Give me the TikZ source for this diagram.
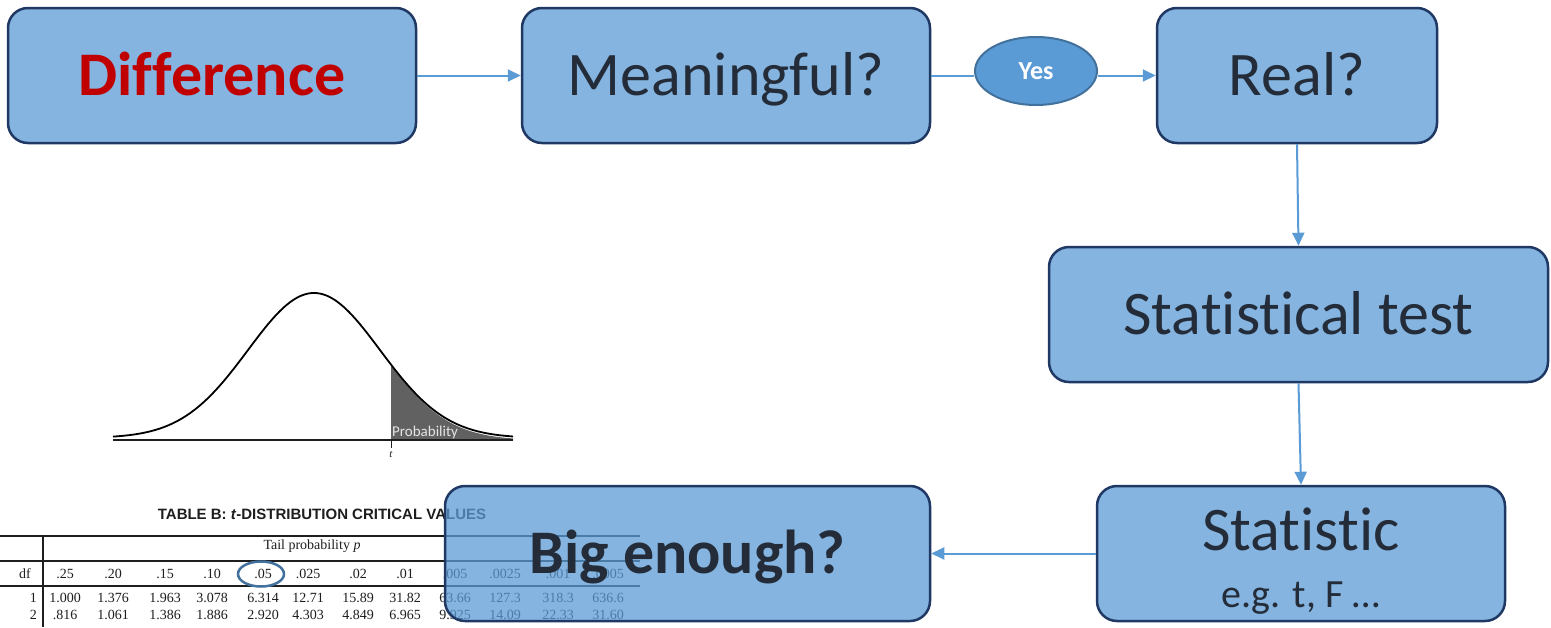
\documentclass[tikz,border=0pt]{standalone}
\usepackage{fontspec}
\setmainfont{Carlito}[Ligatures={NoCommon}]
\newfontfamily\tabfont{Liberation Serif}
\newfontfamily\ttlfont{Liberation Sans}
\usetikzlibrary{arrows.meta,shapes.geometric}
\definecolor{boxfill}{HTML}{5B9BD5}
\definecolor{boxline}{HTML}{1F3864}
\definecolor{txt}{HTML}{232C38}
\definecolor{diffred}{HTML}{C00000}
\definecolor{arrowc}{HTML}{5B9BD5}
\definecolor{yesline}{HTML}{41719C}
\definecolor{ink}{HTML}{1E1E1E}
\begin{document}
\begin{tikzpicture}[x=1pt,y=-1pt,
  box/.style={draw=boxline, line width=2.5pt, fill=boxfill, fill opacity=0.75, text opacity=1,
    rounded corners=20pt, inner sep=0pt, text=txt, font=\fontsize{62}{70}\selectfont,
    text height=40pt, text depth=0pt},
  conn/.style={draw=arrowc, line width=2pt},
  arr/.style={conn, -{Triangle[length=13pt,width=12pt]}},
  tabtxt/.style={font=\tabfont\fontsize{14}{15}\selectfont, inner sep=0pt, text=ink},
  rule/.style={draw=ink, line width=1.8pt},
  curve/.style={draw=black, line width=1.8pt}]
\useasboundingbox (0,0) rectangle (1551,627);
\fill[white] (0,0) rectangle (1551,627);

% ---- bell curve ----
\fill[black!62] (391,440) -- plot[domain=391:513, samples=60] (\x, {440-147*exp(-0.5*((\x-314)/66)^2)}) -- (513,440) -- cycle;
\draw[curve] plot[domain=113:513, samples=150, smooth] (\x, {438-145*exp(-0.5*((\x-314)/66)^2)});
\draw[rule] (113,440) -- (513,440);
\draw[draw=ink, line width=1pt] (391,440) -- (391,448);
\node[font=\tabfont\itshape\fontsize{11}{11}\selectfont, inner sep=0pt, text=ink] (tlab) at (391,454) {t};
\node[font=\fontsize{15}{15}\selectfont, text=black!10, inner sep=0pt, anchor=west] (plab) at (392,432) {Probability};

% ---- table ----
\node[font=\ttlfont\bfseries\fontsize{15}{15}\selectfont, text=ink, inner sep=0pt] (ttl) at (322,514) {TABLE B: \textit{t}-DISTRIBUTION CRITICAL VALUES};
\draw[rule] (0,536) -- (640,536);
\draw[rule] (0,561) -- (640,561);
\draw[rule] (0,586) -- (640,586);
\draw[rule] (43,536) -- (43,627);
\node[tabtxt] (tp) at (312,546) {Tail probability \textit{p}};
\node[tabtxt] (dfh) at (25,574) {df};
\foreach \xx/\v [count=\i] in {65/.25,113/.20,165/.15,212/.10,263/.05,308/.025,358/.02,405/.01,455/.005,505/.0025,558/.001,608/.0005}
  \node[tabtxt] (h\i) at (\xx,574) {\v};
\node[tabtxt, anchor=east] (r1) at (37,598) {1};
\node[tabtxt, anchor=east] (r2) at (37,615) {2};
\foreach \xx/\v [count=\i] in {65/1.000,113/1.376,165/1.963,212/3.078,263/6.314,308/12.71,358/15.89,405/31.82,455/63.66,505/127.3,558/318.3,608/636.6}
  \node[tabtxt] (a\i) at (\xx,598) {\v};
\foreach \xx/\v [count=\i] in {65/.816,113/1.061,165/1.386,212/1.886,263/2.920,308/4.303,358/4.849,405/6.965,455/9.925,505/14.09,558/22.33,608/31.60}
  \node[tabtxt] (b\i) at (\xx,615) {\v};
\node[draw=yesline, line width=2.5pt, ellipse, minimum width=46pt, minimum height=25pt, inner sep=0pt] (circ) at (261,574) {};

% ---- flow boxes ----
\node[box, minimum width=408pt, minimum height=135pt, text=diffred] (diff) at (212,75.5) {\textbf{Difference}};
\node[box, minimum width=408pt, minimum height=135pt] (mean) at (726,75.5) {Meaningful?};
\node[draw=yesline, line width=2pt, fill=boxfill, ellipse, minimum width=122pt, minimum height=68pt, inner sep=0pt,
  text=white, font=\bfseries\fontsize{26}{26}\selectfont] (yes) at (1036,71) {Yes};
\node[box, minimum width=280pt, minimum height=135pt] (real) at (1297,75.5) {Real?};
\node[box, minimum width=499pt, minimum height=135pt] (test) at (1298.5,314.5) {Statistical test};
\node[box, minimum width=408pt, minimum height=135pt] (stat) at (1301,553.5) {};
\node[font=\fontsize{62}{62}\selectfont, text=txt, inner sep=0pt, anchor=base] (statl) at (1301,550) {Statistic};
\node[font=\fontsize{40}{40}\selectfont, text=txt, inner sep=0pt, anchor=base] (statm) at (1301,607) {e.g. t, F …};
\node[box, minimum width=485pt, minimum height=135pt] (big) at (687.5,553.5) {\textbf{Big enough?}};

% ---- connectors ----
\draw[arr] (diff.east) -- (mean.west);
\draw[conn] (mean.east) -- (yes.west |- mean.east);
\draw[arr] (yes.east |- real.west) -- (real.west);
\draw[arr] (real.south) -- (test.north);
\draw[arr] (test.south) -- (stat.north);
\draw[arr] (stat.west) -- (big.east);
\end{tikzpicture}
\end{document}
